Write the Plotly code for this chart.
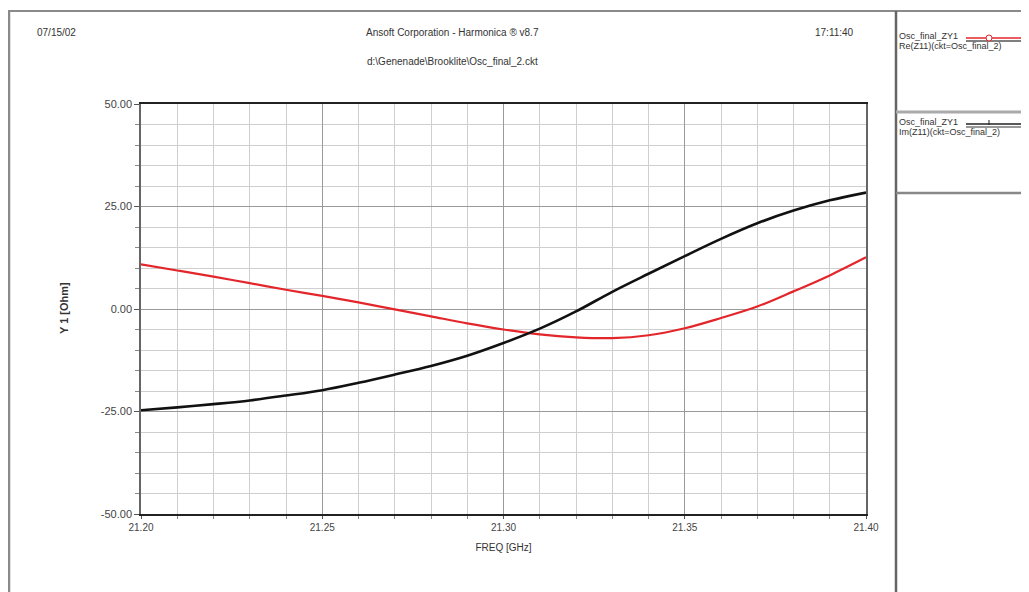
import plotly.graph_objects as go

# ---------------- data ----------------
freq_ghz = [21.20, 21.21, 21.22, 21.23, 21.24, 21.25, 21.26, 21.27, 21.28, 21.29, 21.30,
            21.31, 21.32, 21.33, 21.34, 21.35, 21.36, 21.37, 21.38, 21.39, 21.40]
re_z11 = [10.9, 9.4, 7.9, 6.3, 4.7, 3.2, 1.6, -0.1, -1.8, -3.5, -5.0,
          -6.2, -6.9, -7.1, -6.4, -4.7, -2.2, 0.6, 4.3, 8.2, 12.6]
im_z11 = [-24.7, -24.0, -23.2, -22.3, -21.1, -19.8, -18.0, -16.0, -13.9, -11.4, -8.3,
          -4.8, -0.6, 4.2, 8.6, 12.9, 17.1, 20.9, 24.0, 26.5, 28.4]
x_tickvals = [21.20, 21.25, 21.30, 21.35, 21.40]
x_ticktext = ["21.20", "21.25", "21.30", "21.35", "21.40"]
y_tickvals = [-50, -25, 0, 25, 50]
y_ticktext = ["-50.00", "-25.00", "0.00", "25.00", "50.00"]

OFF = 8  # page body margin in the browser
W, H = 1029 - OFF, 592 - OFF
L, R, T, B = 141, 866, 104, 514   # plot area in page pixels

def px(x):
    return (x - L) / (R - L)

def py(y):
    return (B - y) / (B - T)

FONT = "Liberation Sans, Arial, sans-serif"

fig = go.Figure()
fig.add_trace(go.Scatter(x=freq_ghz, y=re_z11, mode="lines",
                         line=dict(color="#e3262b", width=2.2, shape="spline"), name="Re(Z11)"))
fig.add_trace(go.Scatter(x=freq_ghz, y=im_z11, mode="lines",
                         line=dict(color="#111111", width=2.6, shape="spline"), name="Im(Z11)"))

fig.update_layout(
    width=W, height=H,
    margin=dict(l=L - OFF, r=(W + OFF) - R, t=T - OFF, b=(H + OFF) - B, pad=0),
    paper_bgcolor="white", plot_bgcolor="white",
    showlegend=False,
    font=dict(family=FONT, size=11, color="#333"),
)
fig.update_xaxes(
    range=[21.20, 21.40], tickvals=x_tickvals, ticktext=x_ticktext,
    showgrid=True, gridcolor="#9a9a9a", gridwidth=1,
    minor=dict(dtick=0.01, tick0=21.20, showgrid=True, gridcolor="#cfcfcf", gridwidth=1,
               ticks="outside", ticklen=3, tickcolor="#888"),
    ticks="outside", ticklen=3, tickcolor="#555",
    showline=True, linecolor="#222", linewidth=2, mirror=True,
    zeroline=False, tickfont=dict(size=10, color="#444"),
    title=dict(text="FREQ [GHz]", font=dict(size=10, color="#333"), standoff=12),
)
fig.update_yaxes(
    range=[-50, 50], tickvals=y_tickvals, ticktext=y_ticktext,
    showgrid=True, gridcolor="#9a9a9a", gridwidth=1,
    minor=dict(dtick=5, tick0=0, showgrid=True, gridcolor="#cfcfcf", gridwidth=1,
               ticks="outside", ticklen=4, tickcolor="#888"),
    ticks="outside", ticklen=5, tickcolor="#555",
    showline=True, linecolor="#666", linewidth=1.5, mirror=True,
    zeroline=False, tickfont=dict(size=11, color="#444"),
)

ann = []
def text(x, y, s, xanchor="center", size=11, bold=False, angle=0, color="#333"):
    ann.append(dict(x=px(x), y=py(y), xref="paper", yref="paper",
                    text=("<b>%s</b>" % s if bold else s),
                    showarrow=False, xanchor=xanchor, yanchor="middle", textangle=angle,
                    font=dict(family=FONT, size=size, color=color)))

text(35, 32, "07/15/02", xanchor="left", size=10)
text(452, 32, "Ansoft Corporation - Harmonica ® v8.7", size=10)
text(452, 62, "d:\\Genenade\\Brooklite\\Osc_final_2.ckt", size=10)
text(834, 32, "17:11:40", size=10)
text(64, 308, "Y 1 [Ohm]", bold=True, angle=-90, size=11)

# legend texts
text(897, 36, "Osc_final_ZY1", xanchor="left", size=9)
text(897, 46, "Re(Z11)(ckt=Osc_final_2)", xanchor="left", size=9)
text(897, 122, "Osc_final_ZY1", xanchor="left", size=9)
text(897, 132, "Im(Z11)(ckt=Osc_final_2)", xanchor="left", size=9)
fig.update_layout(annotations=ann)

shapes = []
def line(x0, y0, x1, y1, color, width):
    shapes.append(dict(type="line", xref="paper", yref="paper",
                       x0=px(x0), y0=py(y0), x1=px(x1), y1=py(y1),
                       line=dict(color=color, width=width), layer="above"))

# outer frame
line(7, 11, 1029, 11, "#8a8a8a", 2)
line(9, 11, 9, 592, "#8a8a8a", 2.5)
line(896, 11, 896, 592, "#666", 2.5)
line(896, 112, 1029, 112, "#aaa", 3)
line(896, 193, 1029, 193, "#888", 2.5)
# legend samples
line(966, 38, 1029, 38, "#e3262b", 1.5)
line(966, 41, 1029, 41, "#555", 1.5)
shapes.append(dict(type="circle", xref="paper", yref="paper",
                   x0=px(986), x1=px(992), y0=py(35), y1=py(41),
                   line=dict(color="#e3262b", width=1), fillcolor="white"))
line(966, 124, 1029, 124, "#222", 1.5)
line(966, 127, 1029, 127, "#777", 1.5)
line(989, 120, 989, 125, "#222", 1)
fig.update_layout(shapes=shapes)

fig.write_html("out.html")
